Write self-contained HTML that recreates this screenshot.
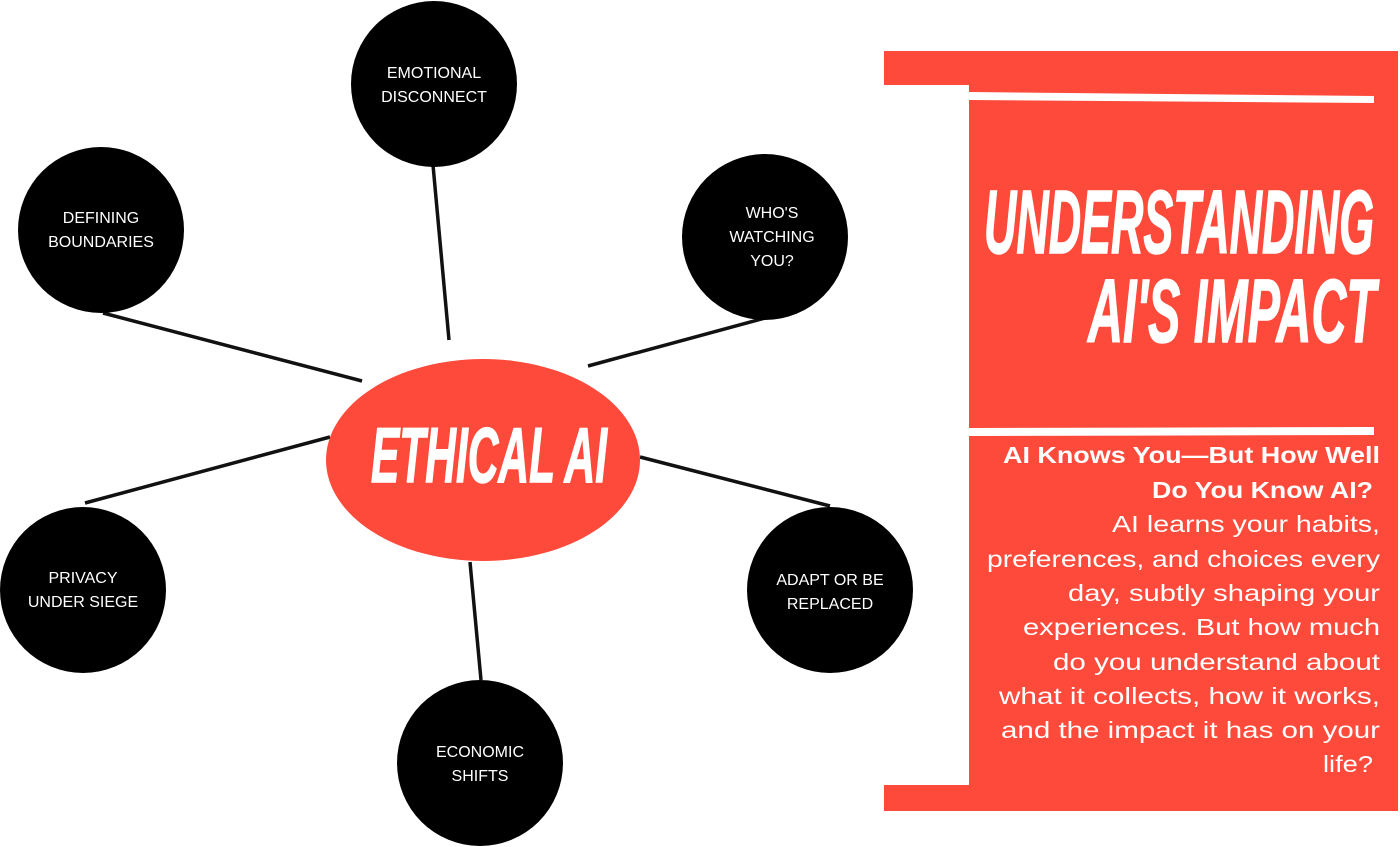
<!DOCTYPE html>
<html><head><meta charset="utf-8"><style>
html,body{margin:0;padding:0;background:#fff;}
body{width:1400px;height:847px;position:relative;overflow:hidden;font-family:"Liberation Sans",sans-serif;}
</style></head><body>
<svg width="1400" height="847" style="position:absolute;left:0;top:0">
<rect x="884" y="51" width="514" height="760" fill="#fe4a3a"/>
<rect x="884" y="85" width="85" height="700" fill="#fff"/>
<polygon points="969,92 1374,96 1374,103 969,100" fill="#fff"/>
<polygon points="969,428 1374,427 1374,435 969,436" fill="#fff"/>
<g stroke="#111" stroke-width="3.5">
<line x1="433" y1="165" x2="449" y2="340"/>
<line x1="103" y1="313" x2="362" y2="381"/>
<line x1="765" y1="318" x2="588" y2="366"/>
<line x1="85" y1="503" x2="330" y2="437"/>
<line x1="640" y1="457" x2="830" y2="506"/>
<line x1="470" y1="562" x2="481" y2="680"/>
</g>
<g fill="#000">
<circle cx="434" cy="84" r="83"/>
<circle cx="101" cy="230" r="83"/>
<circle cx="765" cy="237" r="83"/>
<circle cx="83" cy="590" r="83"/>
<circle cx="830" cy="590" r="83"/>
<circle cx="480" cy="763" r="83"/>
</g>
<ellipse cx="483" cy="460" rx="157" ry="101" fill="#fe4a3a"/>
<g fill="#fff" font-family="Liberation Sans, sans-serif" font-size="16" text-anchor="middle">
<text x="434" y="78">EMOTIONAL</text><text x="434" y="102">DISCONNECT</text>
<text x="101" y="223">DEFINING</text><text x="101" y="247">BOUNDARIES</text>
<text x="772" y="218">WHO'S</text><text x="772" y="242">WATCHING</text><text x="772" y="266">YOU?</text>
<text x="83" y="583">PRIVACY</text><text x="83" y="607">UNDER SIEGE</text>
<text x="830" y="585">ADAPT OR BE</text><text x="830" y="609">REPLACED</text>
<text x="480" y="757">ECONOMIC</text><text x="480" y="781">SHIFTS</text>
</g>
<g fill="#fff" stroke="#fff" stroke-width="1.5" font-family="Liberation Sans Narrow, Liberation Sans, sans-serif" font-weight="bold" font-style="italic">
<text x="489" y="482" font-size="78" text-anchor="middle" textLength="236" lengthAdjust="spacingAndGlyphs">ETHICAL AI</text>
<text x="1374" y="253" font-size="90" text-anchor="end" textLength="390" lengthAdjust="spacingAndGlyphs">UNDERSTANDING</text>
<text x="1376" y="342" font-size="90" text-anchor="end" textLength="288" lengthAdjust="spacingAndGlyphs">AI'S IMPACT</text>
</g>
<g fill="#fff" font-family="Liberation Sans, sans-serif" font-size="23" text-anchor="end">
<text x="1380" y="463" font-weight="bold" textLength="377" lengthAdjust="spacingAndGlyphs">AI Knows You—But How Well</text>
<text x="1373" y="498" font-weight="bold" textLength="221" lengthAdjust="spacingAndGlyphs">Do You Know AI?</text>
<text x="1380" y="532" textLength="268" lengthAdjust="spacingAndGlyphs">AI learns your habits,</text>
<text x="1380" y="567" textLength="393" lengthAdjust="spacingAndGlyphs">preferences, and choices every</text>
<text x="1380" y="601" textLength="312" lengthAdjust="spacingAndGlyphs">day, subtly shaping your</text>
<text x="1380" y="635" textLength="357" lengthAdjust="spacingAndGlyphs">experiences. But how much</text>
<text x="1380" y="670" textLength="327" lengthAdjust="spacingAndGlyphs">do you understand about</text>
<text x="1380" y="704" textLength="381" lengthAdjust="spacingAndGlyphs">what it collects, how it works,</text>
<text x="1380" y="738" textLength="379" lengthAdjust="spacingAndGlyphs">and the impact it has on your</text>
<text x="1373" y="772" textLength="50" lengthAdjust="spacingAndGlyphs">life?</text>
</g>
</svg>
</body></html>
